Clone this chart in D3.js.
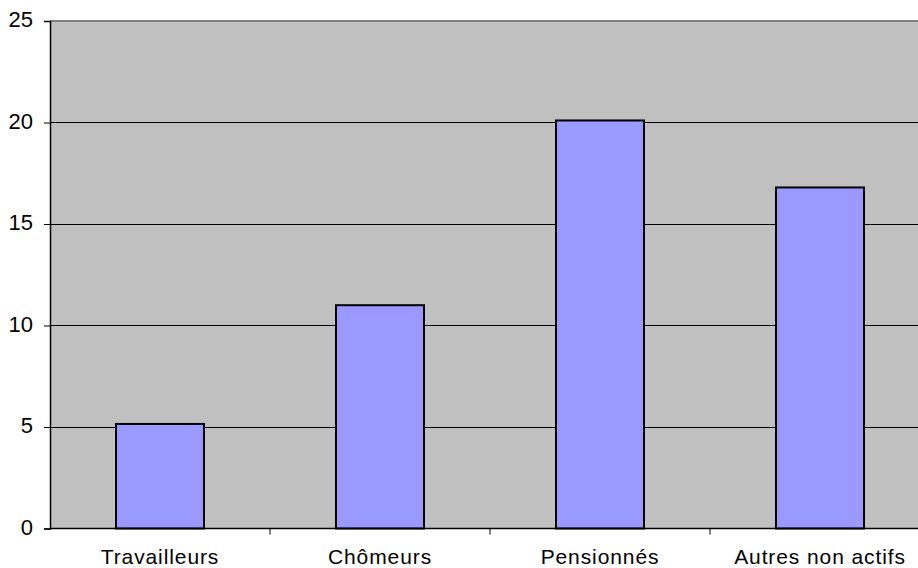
<!DOCTYPE html>
<html><head><meta charset="utf-8">
<script src="https://cdn.jsdelivr.net/npm/d3@7"></script>
<style>html,body{margin:0;padding:0;background:#fff;overflow:hidden}svg{display:block}</style>
</head><body>
<svg id="chart" width="918" height="568"></svg>
<script>
const categories = ["Travailleurs", "Chômeurs", "Pensionnés", "Autres non actifs"];
const values = [5.15, 11.0, 20.1, 16.8];
const yTicks = [0, 5, 10, 15, 20, 25];

(function () {
const svg = d3.select("#chart");
const pLeft = 50, pTop = 21, pBottom = 528.5, pRight = 930;
const x = d3.scaleBand().domain(categories).range([pLeft, pRight]).paddingInner(0).paddingOuter(0);
const y = d3.scaleLinear().domain([0, 25]).range([pBottom, pTop]);
const font = "Liberation Sans, Arial, sans-serif";

svg.append("rect").attr("x", pLeft).attr("y", pTop).attr("width", pRight - pLeft).attr("height", pBottom - pTop).attr("fill", "#C0C0C0");

// gridlines
svg.append("g").selectAll("line").data(yTicks.filter(d => d > 0 && d < 25)).join("line")
  .attr("x1", pLeft).attr("x2", pRight).attr("y1", d => Math.round(y(d)) + 0.5).attr("y2", d => Math.round(y(d)) + 0.5)
  .attr("stroke", "#000").attr("stroke-width", 1);
// top border
svg.append("line").attr("x1", pLeft).attr("x2", pRight).attr("y1", pTop).attr("y2", pTop).attr("stroke", "#808080").attr("stroke-width", 2);

// bars
const bw = x.bandwidth() / 2.5;
svg.append("g").selectAll("rect").data(categories).join("rect")
  .attr("x", d => x(d) + (x.bandwidth() - bw) / 2)
  .attr("y", (d, i) => y(values[i]))
  .attr("width", bw)
  .attr("height", (d, i) => y(0) - y(values[i]))
  .attr("fill", "#9999FF").attr("stroke", "#000").attr("stroke-width", 2);

// y axis
const yAxis = d3.axisLeft(y).tickValues(yTicks).tickSize(6).tickPadding(11).tickFormat(d3.format("d"));
const gy = svg.append("g").attr("transform", `translate(${pLeft},0)`).call(yAxis);
gy.select(".domain").attr("stroke", "#000").attr("stroke-width", 1.5);
gy.selectAll(".tick line").attr("stroke", "#000");
gy.selectAll("text").attr("font-family", font).attr("font-size", 22).attr("fill", "#000").attr("dy", "0.25em");

// x axis
const xAxis = d3.axisBottom(x).tickSize(0).tickPadding(0);
const gx = svg.append("g").attr("transform", `translate(0,${pBottom})`).call(xAxis);
gx.select(".domain").remove();
svg.append("line").attr("x1", pLeft).attr("x2", pRight).attr("y1", pBottom).attr("y2", pBottom).attr("stroke", "#000").attr("stroke-width", 1.5);
gx.selectAll("text").attr("font-family", font).attr("font-size", 21).attr("letter-spacing", "0.9px").attr("fill", "#000").attr("y", 35).attr("dy", 0);
// category separators
svg.append("g").selectAll("line").data(categories.slice(1)).join("line")
  .attr("x1", d => x(d)).attr("x2", d => x(d)).attr("y1", pBottom).attr("y2", pBottom + 6)
  .attr("stroke", "#000").attr("stroke-width", 1);
})();
</script>
</body></html>
